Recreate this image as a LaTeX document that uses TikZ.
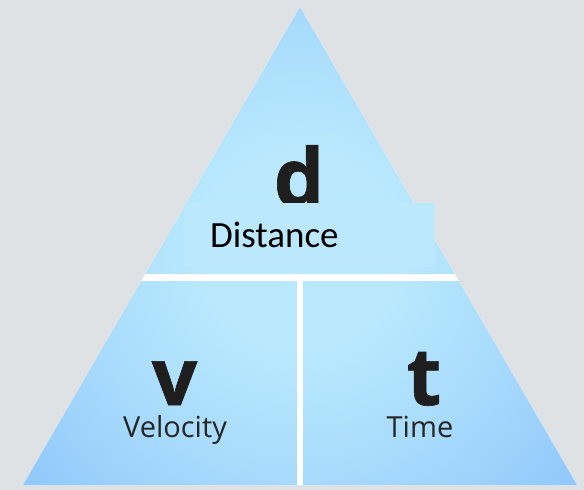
\documentclass[tikz,border=0pt]{standalone}
\usepackage{fontspec}
\newfontfamily\osans{Open Sans}
\newfontfamily\carl{Carlito}
\definecolor{bg}{HTML}{DFE2E5}
\definecolor{c0}{HTML}{BAE9FD}
\definecolor{c1}{HTML}{A8DBFC}
\definecolor{c2}{HTML}{92C9FA}
\definecolor{c3}{HTML}{82BCF7}
\definecolor{c4}{HTML}{74AFF5}
\definecolor{boxc}{HTML}{BBE8FC}
\definecolor{ink}{HTML}{1E1E1E}
\definecolor{lbl}{HTML}{262626}
\pgfdeclareradialshading{tri}{\pgfpoint{0bp}{0bp}}{%
  color(0bp)=(c0); color(6bp)=(c0); color(14bp)=(c1); color(22bp)=(c2); color(30bp)=(c3); color(42bp)=(c4); color(50bp)=(c4)}
\tikzset{
  big/.style={font=\osans\bfseries\addfontfeature{FakeBold=0.8}\fontsize{80}{80}\selectfont, text=ink, inner sep=0pt, anchor=base, text depth=0pt},
  lab/.style={font=\osans\fontsize{29}{29}\selectfont, text=lbl, inner sep=0pt, anchor=base, text height=20pt},
}
\begin{document}
\begin{tikzpicture}[x=1pt,y=-1pt]
\fill[bg] (0,0) rectangle (584,490);
\useasboundingbox (0,0) rectangle (584,490);
\fill[white] (300,7) -- (577,485) -- (23,485) -- cycle;
\begin{scope}
  \clip (300,7) -- (454.7,274) -- (145.3,274) -- cycle
        (141.2,281) -- (297,281) -- (297,485) -- (23,485) -- cycle
        (303,281) -- (458.8,281) -- (577,485) -- (303,485) -- cycle;
  \shade[shading=tri] (300,250) circle (400);
\end{scope}
\node[big] (d) at (299,206) {d};
\fill[boxc] (185,203) rectangle (435,267);
\node[inner sep=0pt, anchor=base west, font=\carl\fontsize{37}{37}\selectfont] (dist) at (210,247) {Distance};
\node[big] (v) at (174.5,405) {v};
\node[lab] (vel) at (175,437) {Velocity};
\node[big] (t) at (424,405) {t};
\node[lab] (time) at (420,437) {Time};
\end{tikzpicture}
\end{document}
